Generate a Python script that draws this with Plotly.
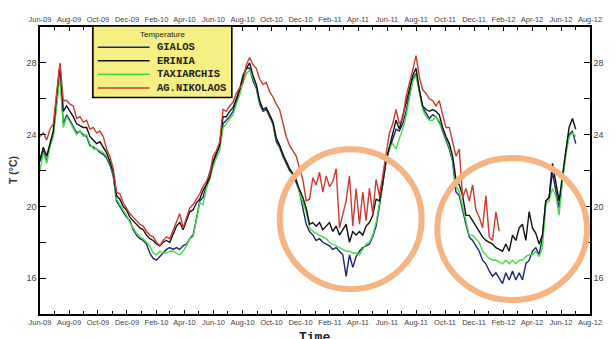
import pandas as pd
import plotly.graph_objects as go

# Weekly mean sea-water temperature (°C) at four coastal stations, Jun 2009 - Jul 2012
week_start = "2009-06-01"
series_names = ["GIALOS", "ERINIA", "TAXIARCHIS", "AG.NIKOLAOS"]

gialos = [
    22.5, 23.1, 22.5, 23.4, 24.0, 25.8, 27.6, 24.6, 25.1, 24.8,
    24.4, 24.1, 24.2, 24.0, 23.9, 23.4, 23.3, 23.2, 23.0, 22.9,
    22.7, 22.3, 21.7, 20.3, 20.0, 19.7, 19.4, 19.2, 18.7, 18.4,
    18.2, 18.1, 17.9, 17.4, 17.1, 17.0, 17.2, 17.4, 17.6, 17.7,
    17.6, 17.7, 17.6, 17.8, 17.9, 18.2, 18.4, 19.3, 20.3, 20.5,
    21.2, 21.9, 22.4, 22.9, 23.4, 24.6, 24.8, 25.0, 25.3, 25.8,
    26.5, 27.3, 27.7, 27.7, 27.0, 26.6, 25.7, 25.3, 25.4, 25.0,
    24.6, 23.6, 23.3, 22.8, 22.4, 22.0, 21.8, 21.5, 20.8, 19.8,
    19.0, 18.6, 18.4, 18.1, 18.2, 18.0, 17.9, 17.8, 17.6, 17.7,
    17.5, 17.3, 16.1, 17.3, 16.6, 17.2, 17.5, 17.7, 17.8, 17.9,
    18.3, 18.9, 20.0, 21.2, 22.5, 23.2, 23.8, 24.3, 24.2, 24.6,
    25.3, 26.3, 27.1, 27.4, 26.4, 25.5, 25.2, 24.9, 25.1, 25.0,
    24.7, 24.2, 23.7, 23.2, 22.5, 20.8, 20.6, 19.7, 19.0, 18.3,
    18.1, 17.8, 17.5, 17.0, 16.8, 16.4, 16.1, 16.3, 16.0, 15.7,
    16.3, 15.9, 16.4, 15.9, 16.3, 15.9, 16.8, 17.0, 17.5, 17.7,
    17.3, 18.3, 20.3, 20.5, 21.9, 21.0, 19.9, 21.5, 23.0, 24.0,
    24.2, 23.5,
]

erinia = [
    22.6, 23.3, 22.8, 23.5, 24.2, 26.2, 27.9, 25.3, 25.6, 25.3,
    25.0, 24.6, 24.5, 24.4, 24.4, 23.9, 23.7, 23.5, 23.6, 23.3,
    23.0, 22.5, 21.9, 20.6, 20.4, 20.0, 19.8, 19.4, 19.2, 19.0,
    18.8, 18.7, 18.4, 18.2, 18.1, 17.9, 17.8, 18.0, 18.1, 18.0,
    18.5, 18.9, 19.1, 18.7, 19.2, 19.7, 19.8, 20.2, 20.4, 20.9,
    21.2, 21.6, 22.5, 23.0, 23.4, 25.0, 25.0, 25.3, 25.5, 26.0,
    26.5, 27.2, 27.7, 28.0, 27.3, 26.8, 25.9, 25.4, 25.5, 25.1,
    24.7, 23.8, 23.4, 22.9, 22.5, 22.1, 21.8, 21.4, 20.9, 20.5,
    19.9, 19.0, 19.1, 18.9, 19.1, 18.7, 18.9, 19.1, 18.6, 18.9,
    18.4, 18.7, 19.0, 18.0, 18.6, 18.4, 18.6, 18.4, 18.9, 19.1,
    19.5, 20.4, 20.3, 21.3, 22.6, 23.3, 24.0, 24.8, 24.3, 25.0,
    25.7, 26.5, 27.3, 27.7, 26.5, 25.6, 25.4, 25.3, 25.4, 25.3,
    25.1, 24.4, 23.9, 23.5, 22.8, 21.5, 21.2, 20.6, 19.5, 19.5,
    19.2, 18.9, 18.6, 18.3, 18.1, 18.0, 17.9, 17.7, 17.6, 17.5,
    17.9, 17.5, 18.4, 18.1, 18.8, 19.0, 18.1, 19.7, 18.8, 18.5,
    17.9, 18.4, 20.3, 20.5, 22.4, 21.3, 20.3, 21.7, 23.2, 24.4,
    24.9, 24.3,
]

taxiarchis = [
    22.0, 23.0, 22.4, 23.3, 23.9, 25.6, 27.3, 24.4, 25.0, 24.7,
    24.3, 24.0, 24.2, 23.9, 24.0, 23.5, 23.2, 23.2, 23.1, 23.0,
    22.8, 22.4, 21.8, 20.4, 20.1, 19.8, 19.5, 19.1, 18.8, 18.5,
    18.3, 18.2, 18.0, 17.8, 17.4, 17.3, 17.5, 17.4, 17.4, 17.5,
    17.5, 17.4, 17.3, 17.5, 17.8, 18.2, 18.3, 19.2, 20.2, 20.1,
    21.0, 21.5, 22.2, 22.7, 23.1, 24.4, 24.6, 24.9, 25.1, 25.7,
    26.2, 26.9, 27.4, 27.6, 27.1, 26.7, 25.8, 25.4, 25.5, 25.1,
    24.7, 23.8, 23.4, 22.9, 22.5, 22.1, 21.8, 21.3, 20.8, 20.3,
    19.7, 18.8, 18.6, 18.5, 18.4, 18.3, 18.2, 18.0, 17.9, 17.8,
    17.7, 17.6, 17.5, 17.5, 17.4, 17.4, 17.3, 17.6, 17.9, 18.0,
    18.4, 19.1, 20.1, 21.3, 22.6, 23.3, 23.5, 23.2, 23.8, 24.3,
    25.0, 26.1, 27.0, 27.3, 26.3, 25.4, 25.0, 24.8, 24.8, 25.0,
    24.6, 24.3, 23.8, 23.3, 22.6, 21.2, 20.8, 19.9, 19.2, 18.4,
    18.4, 18.2, 18.0, 17.5, 17.3, 17.1, 17.0, 17.0, 16.9, 16.8,
    17.0, 16.8, 17.0, 16.8, 17.0, 17.0, 17.2, 17.3, 17.3, 17.5,
    17.2, 17.7, 20.1, 20.3, 21.0, 20.6, 19.5, 21.4, 22.8, 23.9,
    24.1, 23.9,
]

ag_nikolaos = [
    23.9, 24.1, 23.7, 24.3, 24.6, 26.4, 28.0, 25.9, 25.9, 25.7,
    25.6, 24.9, 25.0, 24.7, 24.8, 24.3, 24.4, 24.1, 24.2, 23.9,
    23.2, 22.8, 22.1, 20.8, 20.7, 20.2, 19.9, 19.6, 19.4, 19.2,
    19.0, 18.9, 18.6, 18.4, 18.3, 18.0, 17.8, 18.1, 18.3, 18.2,
    18.7, 19.1, 19.6, 18.8, 19.4, 19.9, 20.1, 20.4, 20.7, 21.1,
    21.4, 21.8, 22.8, 23.1, 23.6, 25.4, 25.3, 25.6, 25.8, 26.3,
    26.6, 26.9, 27.9, 28.3, 27.9, 27.7, 27.1, 26.8, 26.9, 26.4,
    26.1, 25.7, 25.4, 24.6, 23.9, 23.4, 23.1, 22.8, 22.1, 21.5,
    20.3, 20.4, 21.6, 21.2, 21.9, 20.8, 21.7, 21.1, 21.4, 22.1,
    18.8, 19.6, 20.3, 21.7, 18.9, 21.0, 19.0, 20.8, 19.2, 21.0,
    19.6, 21.5, 20.6, 21.7, 22.8, 24.1, 24.6, 25.4, 24.6, 24.9,
    26.1, 26.8, 27.6, 28.4, 27.2, 26.5, 26.3, 26.0, 25.9, 25.6,
    25.9, 25.1, 24.4, 24.4, 23.5, 22.8, 23.2, 20.5, 21.0, 20.3,
    21.2, 19.8, 19.4, 18.8, 20.6, 18.3, 18.1, 19.7, 18.6,
]

y_tick_values = [16, 20, 24, 28]
x_first, x_last = "2009-06-01", "2012-08-01"

line_colors = {
    "GIALOS": "#1c2573",
    "ERINIA": "#111111",
    "TAXIARCHIS": "#48dc48",
    "AG.NIKOLAOS": "#cc3a30",
}
values = {
    "GIALOS": gialos,
    "ERINIA": erinia,
    "TAXIARCHIS": taxiarchis,
    "AG.NIKOLAOS": ag_nikolaos,
}

# canvas geometry (pixels) and helpers to convert into paper coordinates
W, H = 616, 339
ML, MR, MT, MB = 40, 14, 27, 23
PW, PH = W - ML - MR, H - MT - MB


def paper_x(px):
    return (px - ML) / PW


def paper_y(py):
    return 1 - (py - MT) / PH


fig = go.Figure()

for name in ["GIALOS", "TAXIARCHIS", "ERINIA", "AG.NIKOLAOS"]:
    vals = values[name]
    dates = pd.date_range(week_start, periods=len(vals), freq="7D")
    fig.add_trace(go.Scatter(
        x=dates, y=vals, mode="lines", name=name, showlegend=False,
        line=dict(color=line_colors[name], width=1.4),
    ))

# invisible trace so the mirrored top/right axes get drawn with labels
fig.add_trace(go.Scatter(x=[x_first], y=[None], xaxis="x2", yaxis="y2",
                         showlegend=False, hoverinfo="skip"))

tick_font = dict(family="Liberation Sans, Arial", size=7.5, color="#444")
x_common = dict(
    type="date", range=[x_first, x_last], tick0=x_first, dtick="M2",
    tickformat="%b-%y", ticks="inside", ticklen=4, tickwidth=1, tickcolor="black",
    minor=dict(dtick="M1", tick0=x_first, ticks="inside", ticklen=3,
               tickwidth=1, tickcolor="black"),
    showline=True, linecolor="black", linewidth=1.6,
    showgrid=False, zeroline=False, tickfont=tick_font,
)
y_common = dict(
    range=[14, 30], tickmode="array", tickvals=y_tick_values,
    ticks="inside", ticklen=6, tickwidth=1, tickcolor="black",
    minor=dict(tickmode="array", tickvals=[18, 22, 26], ticks="inside",
               ticklen=6, tickwidth=1, tickcolor="black"),
    showline=True, linecolor="black", linewidth=1.6,
    showgrid=False, zeroline=False,
    tickfont=dict(family="Liberation Sans, Arial", size=9, color="#444"),
)

fig.update_layout(
    width=W, height=H,
    margin=dict(l=ML, r=MR, t=MT, b=MB, pad=0),
    paper_bgcolor="white", plot_bgcolor="white",
    xaxis=dict(**x_common, side="bottom", anchor="y"),
    xaxis2=dict(**x_common, side="top", overlaying="x", matches="x", anchor="y2"),
    yaxis=dict(**y_common, side="left", anchor="x"),
    yaxis2=dict(**y_common, side="right", overlaying="y", matches="y", anchor="x2"),
    showlegend=False,
)

shapes = []
annotations = []

# highlighted winter periods
ring = dict(type="circle", xref="paper", yref="paper",
            line=dict(color="#f5b482", width=6), fillcolor="rgba(0,0,0,0)")
shapes.append(dict(ring, x0=paper_x(285), x1=paper_x(430),
                   y0=paper_y(291), y1=paper_y(150)))
shapes.append(dict(ring, x0=paper_x(446), x1=paper_x(599),
                   y0=paper_y(302), y1=paper_y(159)))

# legend box
shapes.append(dict(type="rect", xref="paper", yref="paper",
                   x0=paper_x(94), x1=paper_x(236), y0=paper_y(98), y1=paper_y(26),
                   fillcolor="#f6ef84", line=dict(color="black", width=1.6)))
annotations.append(dict(text="Temperature", xref="paper", yref="paper",
                        x=paper_x(165), y=paper_y(35), showarrow=False,
                        xanchor="center", yanchor="middle",
                        font=dict(family="Liberation Sans, Arial", size=8, color="#222")))
for k, name in enumerate(series_names):
    row_y = 47.5 + k * 13.6
    shapes.append(dict(type="line", xref="paper", yref="paper",
                       x0=paper_x(99), x1=paper_x(152),
                       y0=paper_y(row_y), y1=paper_y(row_y),
                       line=dict(color=line_colors[name], width=1.5)))
    annotations.append(dict(text="<b>%s</b>" % name, xref="paper", yref="paper",
                            x=paper_x(157), y=paper_y(row_y), showarrow=False,
                            xanchor="left", yanchor="middle",
                            font=dict(family="Liberation Mono, Courier New", size=10.5,
                                      color="#222")))

# axis titles
annotations.append(dict(text="<b>T (°C)</b>", xref="paper", yref="paper",
                        x=paper_x(12), y=0.5, textangle=-90, showarrow=False,
                        xanchor="center", yanchor="middle",
                        font=dict(family="Liberation Sans, Arial", size=10.5, color="#333")))
annotations.append(dict(text="<b>Time</b>", xref="paper", yref="paper",
                        x=paper_x(320), y=paper_y(330), showarrow=False,
                        xanchor="center", yanchor="top",
                        font=dict(family="Liberation Mono, Courier New", size=13, color="#222")))

fig.update_layout(shapes=shapes, annotations=annotations)

fig.write_html("out.html")
